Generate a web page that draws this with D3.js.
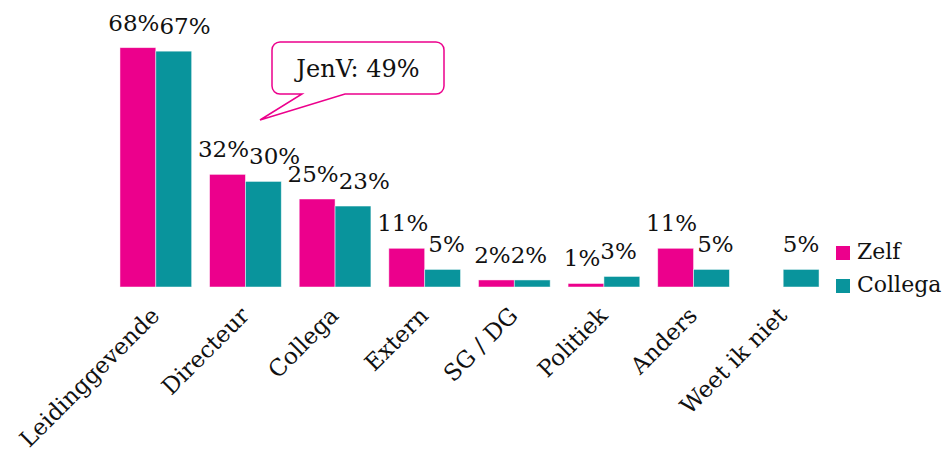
<!DOCTYPE html>
<html>
<head>
<meta charset="utf-8">
<script src="https://cdn.jsdelivr.net/npm/d3@7"></script>
<style>
  body { margin: 0; background: #fff; }
  svg text { font-family: "DejaVu Serif", "Liberation Serif", serif; fill: #111; }
</style>
</head>
<body>
<svg id="chart" width="952" height="452"></svg>
<script>
var categories = ["Leidinggevende", "Directeur", "Collega", "Extern", "SG / DG", "Politiek", "Anders", "Weet ik niet"];
var seriesNames = ["Zelf", "Collega"];
var zelf = [68, 32, 25, 11, 2, 1, 11, null];
var collega = [67, 30, 23, 5, 2, 3, 5, 5];
var calloutText = "JenV: 49%";

var colors = { "Zelf": "#ec008c", "Collega": "#09949c" };

var svg = d3.select("#chart"),
  baseline = 287;

var x = d3.scaleBand().domain(categories).range([111, 828]).paddingInner(0.2).paddingOuter(0.1);
var x1 = d3.scaleBand().domain(seriesNames).range([0, x.bandwidth()]);
var y = d3.scaleLinear().domain([0, 70]).range([baseline, baseline - 70 * 3.52]);

var rows = categories.map(function(c, i) {
  return { cat: c, values: [{ key: "Zelf", v: zelf[i] }, { key: "Collega", v: collega[i] }] };
});

var groups = svg.append("g").selectAll("g").data(rows).enter().append("g")
  .attr("transform", function(d) { return "translate(" + x(d.cat) + ",0)"; });

groups.selectAll("rect").data(function(d) { return d.values.filter(function(e) { return e.v != null; }); })
  .enter().append("rect")
  .attr("x", function(d) { return x1(d.key); })
  .attr("width", x1.bandwidth())
  .attr("y", function(d) { return y(d.v); })
  .attr("height", function(d) { return baseline - y(d.v); })
  .attr("fill", function(d) { return colors[d.key]; })
  .attr("stroke", "#fff")
  .attr("stroke-opacity", 0.6)
  .attr("stroke-width", 0.8);

// value labels, nudging the Collega label right when it runs into the Zelf one
groups.each(function(d) {
  var g = d3.select(this);
  var labels = d.values.filter(function(e) { return e.v != null; }).map(function(e) {
    return g.append("text")
      .attr("x", x1(e.key) + x1.bandwidth() / 2)
      .attr("y", y(e.v) - 17)
      .attr("text-anchor", "middle")
      .style("font-size", "23px")
      .text(e.v + "%");
  });
  if (labels.length == 2) {
    var a = labels[0].node().getBBox(), b = labels[1].node().getBBox();
    var overlap = (a.x + a.width) - b.x;
    if (overlap > 0) {
      labels[0].attr("x", +labels[0].attr("x") - 4);
      labels[1].attr("x", +labels[1].attr("x") + overlap - 4);
    }
  }
});

// category labels
svg.append("g").selectAll("text").data(categories).enter().append("text")
  .attr("transform", function(d) {
    return "translate(" + (x(d) + x.bandwidth() / 2 + 5) + "," + (baseline + 30) + ") rotate(-45)";
  })
  .attr("text-anchor", "end")
  .style("font-size", "23px")
  .text(function(d) { return d; });

// legend
var legend = svg.append("g").attr("transform", "translate(836,246)");
var item = legend.selectAll("g").data(seriesNames).enter().append("g")
  .attr("transform", function(d, i) { return "translate(0," + (i * 33) + ")"; });
item.append("rect").attr("width", 14).attr("height", 14)
  .attr("fill", function(d) { return colors[d]; });
item.append("text").attr("x", 21).attr("y", 13)
  .style("font-size", "22px")
  .text(function(d) { return d; });

// callout
var cx0 = 272, cy0 = 42, cw = 172, ch = 52, r = 8;
var callout = svg.append("g");
var path = d3.path();
path.moveTo(cx0 + r, cy0);
path.lineTo(cx0 + cw - r, cy0);
path.arcTo(cx0 + cw, cy0, cx0 + cw, cy0 + r, r);
path.lineTo(cx0 + cw, cy0 + ch - r);
path.arcTo(cx0 + cw, cy0 + ch, cx0 + cw - r, cy0 + ch, r);
path.lineTo(345, cy0 + ch);
path.lineTo(260, 120);
path.lineTo(302, cy0 + ch);
path.lineTo(cx0 + r, cy0 + ch);
path.arcTo(cx0, cy0 + ch, cx0, cy0 + ch - r, r);
path.lineTo(cx0, cy0 + r);
path.arcTo(cx0, cy0, cx0 + r, cy0, r);
path.closePath();
callout.append("path").attr("d", path.toString())
  .attr("fill", "#fff").attr("stroke", colors["Zelf"]).attr("stroke-width", 1.5);
callout.append("text").attr("x", cx0 + cw / 2).attr("y", 77)
  .attr("text-anchor", "middle").style("font-size", "24px")
  .text(calloutText);
</script>
</body>
</html>
